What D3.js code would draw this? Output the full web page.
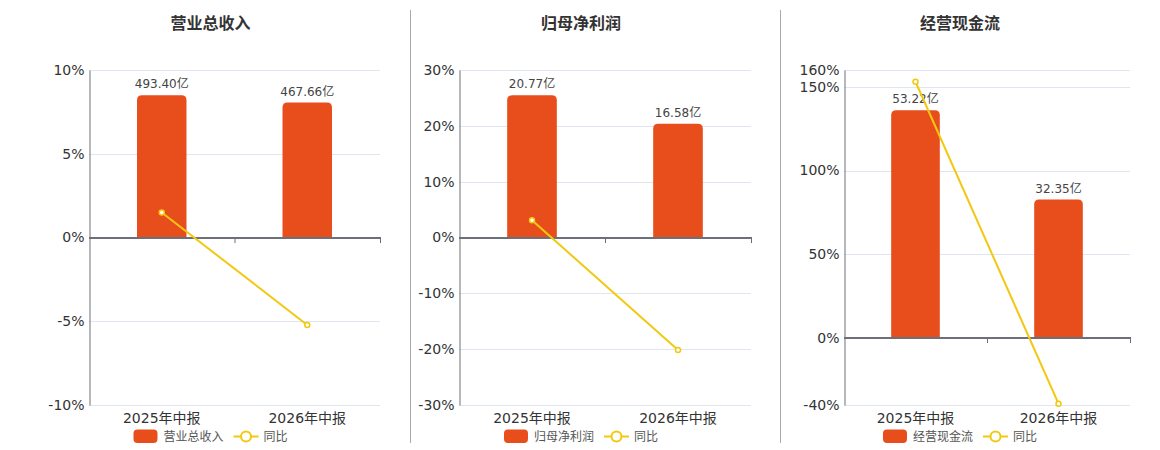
<!DOCTYPE html>
<html>
<head>
<meta charset="utf-8">
<script src="https://cdn.jsdelivr.net/npm/d3@7"></script>
<style>
  html, body { margin: 0; padding: 0; background: #fff; }
  svg { display: block; font-family: "DejaVu Sans", "Noto Sans CJK SC", sans-serif; }
</style>
</head>
<body>
<div id="container"></div>
<script>
const width = 1160, height = 450;

// data
const categories = ["2025年中报", "2026年中报"];
const titles = ["营业总收入", "归母净利润", "经营现金流"];
const revenue = [493.40, 467.66];
const revenueYoY = [1.49, -5.22];
const profit = [20.77, 16.58];
const profitYoY = [3.1, -20.17];
const cash = [53.22, 32.35];
const cashYoY = [153.0, -39.21];
const revenueTicks = [-10, -5, 0, 5, 10];
const profitTicks = [-30, -20, -10, 0, 10, 20, 30];
const cashTicks = [-40, 0, 50, 100, 150, 160];

const barColor = "#E84D1C";
const lineColor = "#F2C811";
const axisColor = "#6E7079";
const gridColor = "#E0E6F1";

const panels = [
  { title: titles[0], bars: revenue, yoy: revenueYoY, ticks: revenueTicks, left: 89, right: 380, center: 210.5 },
  { title: titles[1], bars: profit, yoy: profitYoY, ticks: profitTicks, left: 459, right: 751, center: 581 },
  { title: titles[2], bars: cash, yoy: cashYoY, ticks: cashTicks, left: 844, right: 1130, center: 960 }
];
const plotTop = 70, plotBottom = 405;
const dividers = [410.5, 780.5];

const svg = d3.select("#container").append("svg")
    .attr("width", width)
    .attr("height", height);

svg.selectAll("line.divider")
    .data(dividers)
    .enter().append("line")
    .attr("class", "divider")
    .attr("x1", d => d).attr("x2", d => d)
    .attr("y1", 10).attr("y2", 443)
    .attr("stroke", "#aaa")
    .attr("stroke-width", 1);

// rect with rounded top corners only
function topRounded(x, y, w, h, r) {
    r = Math.min(r, h, w / 2);
    return `M${x},${y + h}V${y + r}Q${x},${y} ${x + r},${y}H${x + w - r}Q${x + w},${y} ${x + w},${y + r}V${y + h}Z`;
}

panels.forEach(p => {
    const g = svg.append("g");

    const x = d3.scaleBand().domain(categories).range([p.left, p.right]);
    const yMin = d3.min(p.ticks), yMax = d3.max(p.ticks);
    const y = d3.scaleLinear().domain([yMin, yMax]).range([plotBottom, plotTop]);
    // bars sit on a hidden axis sharing the zero line, tallest bar at 85%
    const yBar = d3.scaleLinear()
        .domain([0, d3.max(p.bars) / 0.85])
        .range([y(0), plotTop]);

    // title
    g.append("text")
        .attr("x", p.center).attr("y", 29)
        .attr("text-anchor", "middle")
        .attr("font-size", 16).attr("font-weight", "bold")
        .attr("fill", "#333")
        .text(p.title);

    // grid
    g.append("g").selectAll("line")
        .data(p.ticks.filter(t => t !== 0))
        .enter().append("line")
        .attr("x1", p.left).attr("x2", p.right)
        .attr("y1", d => Math.round(y(d)) + 0.5).attr("y2", d => Math.round(y(d)) + 0.5)
        .attr("stroke", gridColor);

    // y axis
    const yAxis = g.append("g")
        .attr("transform", `translate(${p.left + 0.5},0)`)
        .call(d3.axisLeft(y).tickValues(p.ticks).tickSize(0).tickPadding(5).tickFormat(d => d + "%"))
        .attr("font-family", null).attr("font-size", 14);
    yAxis.select(".domain").attr("stroke", axisColor);
    yAxis.selectAll("text").attr("fill", "#333");

    // bars
    const bw = x.bandwidth() * 0.34;
    g.append("g").selectAll("path")
        .data(p.bars)
        .enter().append("path")
        .attr("d", (d, i) => {
            const cx = x(categories[i]) + x.bandwidth() / 2;
            return topRounded(cx - bw / 2, yBar(d), bw, y(0) - yBar(d), 5);
        })
        .attr("fill", barColor);

    g.append("g").selectAll("text")
        .data(p.bars)
        .enter().append("text")
        .attr("x", (d, i) => x(categories[i]) + x.bandwidth() / 2)
        .attr("y", d => yBar(d) - 7)
        .attr("text-anchor", "middle")
        .attr("font-size", 12)
        .attr("fill", "#444")
        .text(d => d.toFixed(2) + "亿");

    // zero axis line with boundary ticks
    const y0 = Math.round(y(0));
    g.append("line")
        .attr("x1", p.left).attr("x2", p.right + 1)
        .attr("y1", y0).attr("y2", y0)
        .attr("stroke", axisColor).attr("stroke-width", 2);
    g.append("g").selectAll("line")
        .data(categories.slice(1).map(c => x(c)).concat([p.right]))
        .enter().append("line")
        .attr("x1", d => d + 0.5).attr("x2", d => d + 0.5)
        .attr("y1", y0).attr("y2", y0 + 5)
        .attr("stroke", axisColor);

    // category labels at the bottom
    const xAxis = g.append("g")
        .attr("transform", `translate(0,${plotBottom})`)
        .call(d3.axisBottom(x).tickSize(0).tickPadding(8))
        .attr("font-family", null).attr("font-size", 14);
    xAxis.select(".domain").remove();
    xAxis.selectAll("text").attr("fill", "#333");

    // yoy line
    const line = d3.line()
        .x((d, i) => x(categories[i]) + x.bandwidth() / 2)
        .y(d => y(d));
    g.append("path")
        .datum(p.yoy)
        .attr("d", line)
        .attr("fill", "none")
        .attr("stroke", lineColor)
        .attr("stroke-width", 2);
    g.append("g").selectAll("circle")
        .data(p.yoy)
        .enter().append("circle")
        .attr("cx", (d, i) => x(categories[i]) + x.bandwidth() / 2)
        .attr("cy", d => y(d))
        .attr("r", 2.5)
        .attr("fill", "#fff")
        .attr("stroke", lineColor)
        .attr("stroke-width", 1.5);

    // legend
    const lg = g.append("g").attr("font-size", 12).attr("fill", "#555");
    const t1 = lg.append("text").attr("y", 441).text(p.title);
    const t2 = lg.append("text").attr("y", 441).text("同比");
    const w1 = t1.node().getComputedTextLength();
    const w2 = t2.node().getComputedTextLength();
    const total = 24 + 6 + w1 + 10 + 25 + 5 + w2;
    let lx = p.center - total / 2;
    lg.append("rect")
        .attr("x", lx).attr("y", 429.5).attr("width", 24).attr("height", 13.5)
        .attr("rx", 4).attr("fill", barColor);
    t1.attr("x", lx + 30);
    lx += 30 + w1 + 10;
    lg.append("line")
        .attr("x1", lx).attr("x2", lx + 25)
        .attr("y1", 436.5).attr("y2", 436.5)
        .attr("stroke", lineColor).attr("stroke-width", 2);
    lg.append("circle")
        .attr("cx", lx + 12.5).attr("cy", 436.5).attr("r", 5)
        .attr("fill", "#fff").attr("stroke", lineColor).attr("stroke-width", 2);
    t2.attr("x", lx + 30);
});
</script>
</body>
</html>
